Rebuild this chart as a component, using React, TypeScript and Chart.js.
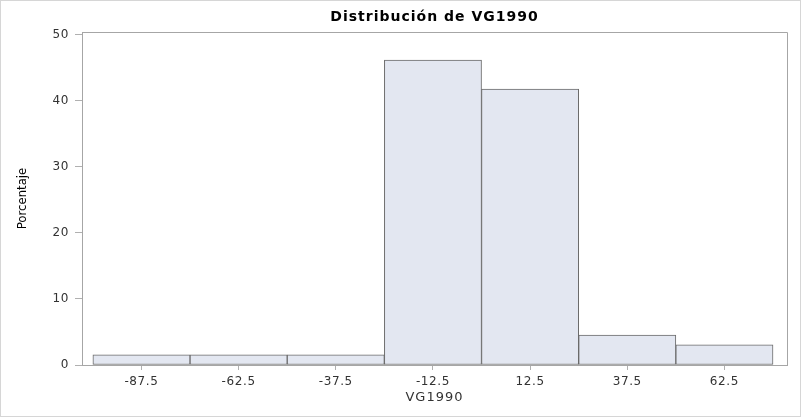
import React, { useEffect, useRef } from "react";
import { Chart, registerables } from "chart.js";

Chart.register(...registerables);

const chartTitle = "Distribución de VG1990";
const xAxisTitle = "VG1990";
const yAxisTitle = "Porcentaje";
const binCenters = [-87.5, -62.5, -37.5, -12.5, 12.5, 37.5, 62.5];
const percentages = [1.54, 1.54, 1.54, 46.2, 41.8, 4.55, 3.05];
const yTicks = [0, 10, 20, 30, 40, 50];
const xMin = -102.8;
const xMax = 78.6;
const yMax = 50.45;

const textColor = "#333333";
const frameColor = "#a6a6a6";

const spacingPlugin = {
  id: "spacing",
  beforeDraw(chart: any) {
    chart.ctx.letterSpacing = "0.6px";
  },
};

const decorPlugin = {
  id: "decor",
  afterDraw(chart: any) {
    const { ctx, chartArea } = chart;
    const { left, right, top, bottom } = chartArea;
    ctx.save();
    // frame
    ctx.strokeStyle = frameColor;
    ctx.lineWidth = 1;
    ctx.beginPath();
    ctx.moveTo(Math.round(left) + 0.5, Math.round(bottom) + 0.5);
    ctx.lineTo(Math.round(left) + 0.5, Math.round(top) + 0.5);
    ctx.lineTo(Math.round(right) + 0.5, Math.round(top) + 0.5);
    ctx.lineTo(Math.round(right) + 0.5, Math.round(bottom) + 0.5);
    ctx.stroke();
    // outer border
    ctx.strokeStyle = "#d6d6d6";
    ctx.strokeRect(0.5, 0.5, chart.width - 1, chart.height - 1);
    // title
    const cx = (left + right) / 2;
    ctx.fillStyle = "#000000";
    ctx.letterSpacing = "1px";
    ctx.font = "bold 14px 'DejaVu Sans', sans-serif";
    ctx.textAlign = "center";
    ctx.textBaseline = "middle";
    ctx.fillText(chartTitle, cx, 17);
    // x title
    ctx.fillStyle = textColor;
    ctx.font = "13px 'DejaVu Sans', sans-serif";
    ctx.fillText(xAxisTitle, cx, 398);
    // y title
    ctx.save();
    ctx.letterSpacing = "0px";
    ctx.translate(23, (top + bottom) / 2);
    ctx.rotate(-Math.PI / 2);
    ctx.font = "13px 'Liberation Sans Narrow', 'DejaVu Sans Condensed', sans-serif";
    ctx.fillStyle = "#000000";
    ctx.fillText(yAxisTitle, 0, 0);
    ctx.restore();
    ctx.restore();
  },
};

export default function App() {
  const ref = useRef<HTMLCanvasElement>(null);
  useEffect(() => {
    if (!ref.current) return;
    const chart = new Chart(ref.current, {
      type: "bar",
      data: {
        datasets: [
          {
            data: binCenters.map((x, i) => ({ x, y: percentages[i] })),
            backgroundColor: "#e3e7f1",
            borderColor: "#6a6a6a",
            borderWidth: 1,
            borderSkipped: false,
            barPercentage: 1,
            categoryPercentage: 1,
          },
        ],
      },
      options: {
        responsive: false,
        animation: false,
        layout: { padding: { top: 32, right: 14, left: 0, bottom: 0 } },
        plugins: {
          legend: { display: false },
          title: { display: false },
          tooltip: { enabled: false },
        },
        scales: {
          x: {
            type: "linear",
            min: xMin,
            max: xMax,
            offset: false,
            afterBuildTicks: (scale: any) => {
              scale.ticks = binCenters.map((v) => ({ value: v }));
            },
            afterFit: (scale: any) => {
              scale.height = 52;
            },
            ticks: {
              autoSkip: false,
              maxRotation: 0,
              padding: 5,
              color: textColor,
              font: { family: "'DejaVu Sans', sans-serif", size: 12 },
              callback: (v: any) => Number(v).toFixed(1),
            },
            grid: {
              display: true,
              offset: false,
              drawOnChartArea: false,
              drawTicks: true,
              tickLength: 5,
              color: "#b0b0b0",
            },
            border: { display: true, color: frameColor },
          },
          y: {
            min: 0,
            max: yMax,
            afterBuildTicks: (scale: any) => {
              scale.ticks = yTicks.map((v) => ({ value: v }));
            },
            afterFit: (scale: any) => {
              scale.width = 82;
            },
            ticks: {
              padding: 6,
              color: textColor,
              font: { family: "'DejaVu Sans', sans-serif", size: 12 },
            },
            grid: {
              display: true,
              drawOnChartArea: false,
              drawTicks: true,
              tickLength: 7,
              color: "#b0b0b0",
            },
            border: { display: true, color: frameColor },
          },
        },
      },
      plugins: [spacingPlugin, decorPlugin],
    });
    return () => chart.destroy();
  }, []);
  return (
    <div style={{ position: "absolute", left: 0, top: 0, width: 801, height: 417, background: "#ffffff" }}>
      <canvas ref={ref} width={801} height={417} style={{ display: "block" }} />
    </div>
  );
}
